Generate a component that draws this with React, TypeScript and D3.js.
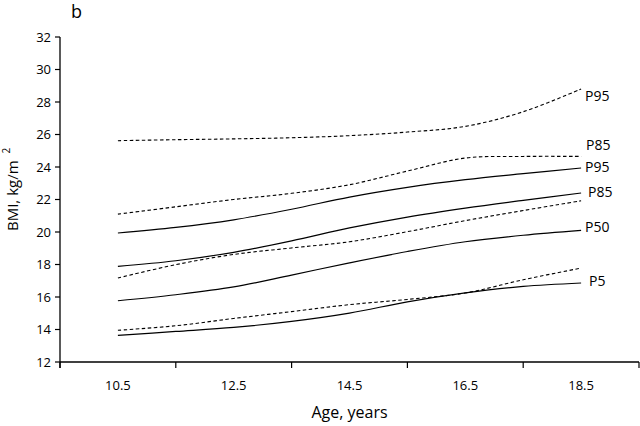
import React from 'react';
import * as d3 from 'd3';

// ages of the data points (one per year)
const ages = [10.5, 11.5, 12.5, 13.5, 14.5, 15.5, 16.5, 17.5, 18.5];
const ageLabels = [10.5, 12.5, 14.5, 16.5, 18.5];
const ageTicks = [9.5, 11.5, 13.5, 15.5, 17.5, 19.5];
const bmiTicks = [12, 14, 16, 18, 20, 22, 24, 26, 28, 30, 32];

// dashed curves
const dashP95 = [25.62, 25.68, 25.73, 25.8, 25.93, 26.15, 26.5, 27.4, 28.8];
const dashP85 = [21.1, 21.55, 22.0, 22.38, 22.91, 23.75, 24.55, 24.65, 24.65];
const dashP50 = [17.17, 17.99, 18.62, 19.02, 19.4, 20.02, 20.7, 21.32, 21.92];
const dashP5 = [13.95, 14.23, 14.68, 15.1, 15.53, 15.85, 16.25, 17.06, 17.78];

// solid curves
const solidP95 = [19.94, 20.28, 20.75, 21.4, 22.15, 22.75, 23.22, 23.59, 23.94];
const solidP85 = [17.88, 18.23, 18.75, 19.45, 20.25, 20.92, 21.47, 21.95, 22.4];
const solidP50 = [15.77, 16.14, 16.62, 17.35, 18.1, 18.8, 19.4, 19.8, 20.1];
const solidP5 = [13.64, 13.88, 14.13, 14.5, 15.01, 15.7, 16.25, 16.65, 16.86];

const series = [
  { values: dashP95, dashed: true, label: 'P95', dx: 4, dy: 12 },
  { values: dashP85, dashed: true, label: 'P85', dx: 5, dy: -6 },
  { values: dashP50, dashed: true, label: '', dx: 0, dy: 0 },
  { values: dashP5, dashed: true, label: '', dx: 0, dy: 0 },
  { values: solidP95, dashed: false, label: 'P95', dx: 4, dy: 4 },
  { values: solidP85, dashed: false, label: 'P85', dx: 7, dy: 4 },
  { values: solidP50, dashed: false, label: 'P50', dx: 4, dy: 2 },
  { values: solidP5, dashed: false, label: 'P5', dx: 8, dy: 3 },
];

const font = '"Open Sans", "DejaVu Sans", sans-serif';

export default function App() {
  const width = 640;
  const height = 426;
  const left = 60, right = 639, top = 37, bottom = 362;

  const x = d3.scaleLinear().domain([9.5, 19.5]).range([left, right]);
  const y = d3.scaleLinear().domain([12, 32]).range([bottom, top]);

  const line = d3.line<number>()
    .x((d, i) => x(ages[i]))
    .y(d => y(d))
    .curve(d3.curveCatmullRom.alpha(0.5));

  return (
    <svg width={width} height={height}
      style={{ position: 'absolute', left: 0, top: 0, background: '#fff' }}
      fontFamily={font}>
      <rect width={width} height={height} fill="#fff" />
      <text x={71} y={18} fontSize={18}>b</text>

      {/* y axis */}
      <line x1={left} x2={left} y1={top} y2={bottom + 6} stroke="#000" strokeWidth={1.3} />
      {bmiTicks.map(t => (
        <g key={t}>
          <line x1={left - 5} x2={left} y1={y(t)} y2={y(t)} stroke="#000" strokeWidth={1.2} />
          <text x={left - 9} y={y(t) + 4.5} fontSize={13} textAnchor="end">{t}</text>
        </g>
      ))}
      <text transform={`translate(18,231) rotate(-90)`} fontSize={15}>
        BMI, kg/m<tspan fontSize={10} dx={7} dy={-8}>2</tspan>
      </text>

      {/* x axis */}
      <line x1={left} x2={right} y1={bottom} y2={bottom} stroke="#000" strokeWidth={1.3} />
      {ageTicks.map(t => (
        <line key={t} x1={x(t)} x2={x(t)} y1={bottom} y2={bottom + 6} stroke="#000" strokeWidth={1.2} />
      ))}
      {ageLabels.map(t => (
        <text key={t} x={x(t)} y={390} fontSize={13} textAnchor="middle">{t}</text>
      ))}
      <text x={(left + right) / 2} y={418} fontSize={16} textAnchor="middle">Age, years</text>

      {/* curves */}
      {series.map((s, i) => (
        <path key={i} d={line(s.values) || ''} fill="none" stroke="#000"
          strokeWidth={s.dashed ? 1.1 : 1.2}
          strokeDasharray={s.dashed ? '3.5,2.5' : undefined} />
      ))}
      {series.filter(s => s.label).map((s, i) => (
        <text key={i} x={x(ages[ages.length - 1]) + s.dx}
          y={y(s.values[s.values.length - 1]) + s.dy}
          fontSize={14}>{s.label}</text>
      ))}
    </svg>
  );
}
